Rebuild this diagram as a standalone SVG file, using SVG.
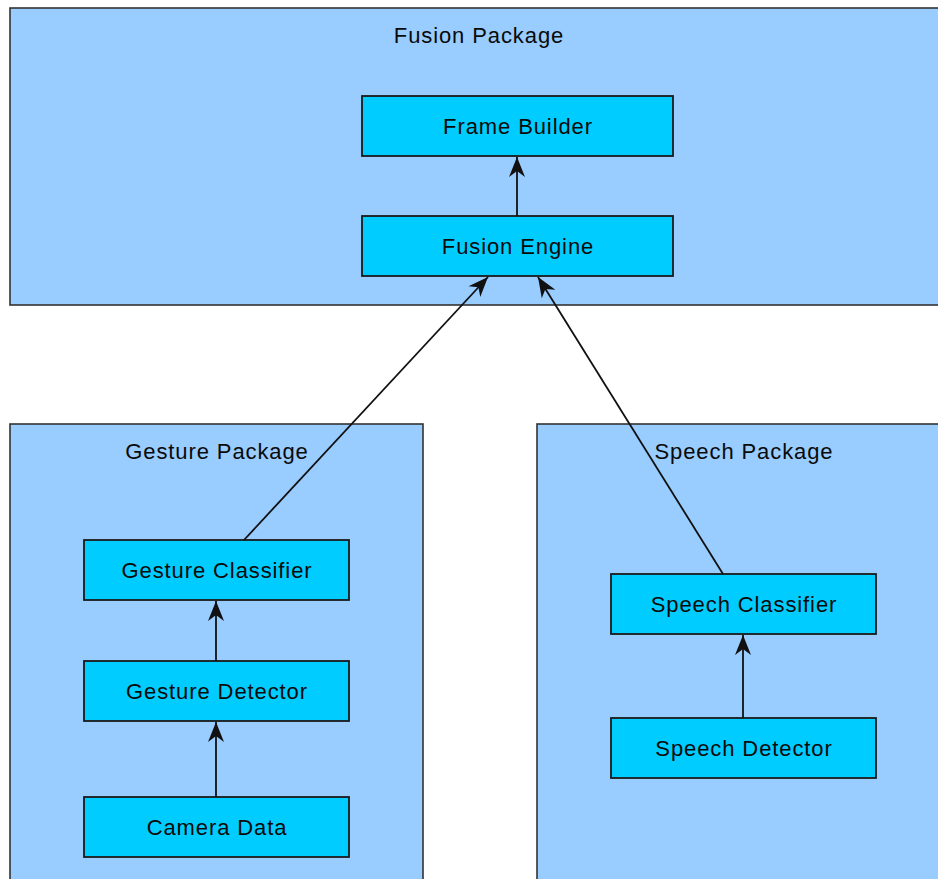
<svg xmlns="http://www.w3.org/2000/svg" width="938" height="879" viewBox="0 0 938 879">
  <style>
    .pkg { fill: #99ccff; stroke: #333333; stroke-width: 1.6; }
    .node rect { fill: #00ccff; stroke: #1a1a1a; stroke-width: 1.8; }
    text { font-family: "Liberation Sans", Arial, sans-serif; font-size: 22px; letter-spacing: 0.9px; fill: #0a0a0a; text-anchor: middle; }
    .edge { stroke: #111111; stroke-width: 1.8; fill: none; marker-end: url(#arrow); }
  </style>
  <defs>
    <marker id="arrow" markerUnits="userSpaceOnUse" viewBox="-22 -9 23 18" markerWidth="23" markerHeight="18" refX="0" refY="0" orient="auto">
      <path d="M0,0 L-20,-8 L-14,0 L-20,8 Z" fill="#111111"/>
    </marker>
  </defs>
  <rect width="938" height="879" fill="#ffffff"/>

  <!-- packages -->
  <g id="fusion-package">
    <rect class="pkg" x="10" y="8" width="940" height="297"/>
    <text x="479" y="43">Fusion Package</text>
  </g>
  <g id="gesture-package">
    <rect class="pkg" x="10" y="424" width="413" height="480"/>
    <text x="217" y="459">Gesture Package</text>
  </g>
  <g id="speech-package">
    <rect class="pkg" x="537" y="424" width="413" height="480"/>
    <text x="744" y="459">Speech Package</text>
  </g>

  <!-- components -->
  <g id="frame-builder" class="node">
    <rect x="362" y="96" width="311" height="60"/>
    <text x="518" y="134">Frame Builder</text>
  </g>
  <g id="fusion-engine" class="node">
    <rect x="362" y="216" width="311" height="60"/>
    <text x="518" y="254">Fusion Engine</text>
  </g>
  <g id="gesture-classifier" class="node">
    <rect x="84" y="540" width="265" height="60"/>
    <text x="217" y="578">Gesture Classifier</text>
  </g>
  <g id="gesture-detector" class="node">
    <rect x="84" y="661" width="265" height="60"/>
    <text x="217" y="699">Gesture Detector</text>
  </g>
  <g id="camera-data" class="node">
    <rect x="84" y="797" width="265" height="60"/>
    <text x="217" y="835">Camera Data</text>
  </g>
  <g id="speech-classifier" class="node">
    <rect x="611" y="574" width="265" height="60"/>
    <text x="744" y="612">Speech Classifier</text>
  </g>
  <g id="speech-detector" class="node">
    <rect x="611" y="718" width="265" height="60"/>
    <text x="744" y="756">Speech Detector</text>
  </g>

  <!-- connectors -->
  <g id="connectors">
    <line class="edge" x1="517" y1="216" x2="517" y2="157"/>
    <line class="edge" x1="244" y1="540" x2="488" y2="277"/>
    <line class="edge" x1="723" y1="574" x2="538" y2="277"/>
    <line class="edge" x1="216" y1="661" x2="216" y2="601"/>
    <line class="edge" x1="216" y1="797" x2="216" y2="722"/>
    <line class="edge" x1="743" y1="718" x2="743" y2="635"/>
  </g>
</svg>
